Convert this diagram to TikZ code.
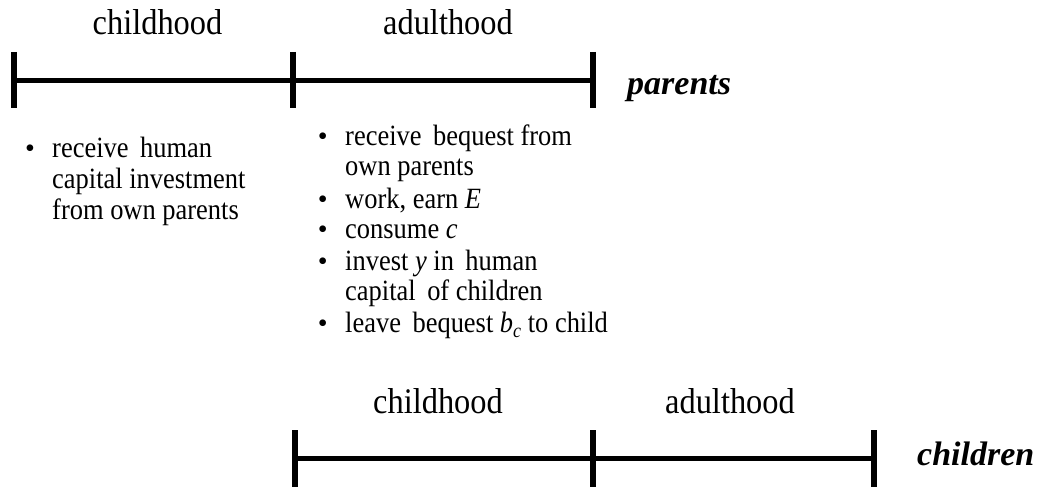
\documentclass[tikz,border=0pt]{standalone}
\usepackage{fontspec}
\setmainfont{Liberation Serif}
\newfontfamily\bodyfont{Liberation Serif}[FakeStretch=0.9]
\begin{document}
\begin{tikzpicture}[x=1pt,y=-1pt,
  head/.style={font=\bodyfont\fontsize{36}{38}\selectfont, anchor=base, inner sep=0},
  lbl/.style={font=\fontsize{34}{38}\selectfont\bfseries\itshape, anchor=base west, inner sep=0},
  txt/.style={font=\bodyfont\fontsize{29.4}{30}\selectfont, anchor=base west, inner sep=0},
  bul/.style={font=\fontsize{28}{28}\selectfont, anchor=base, inner sep=0},
  axisline/.style={line width=5pt},
  tickline/.style={line width=5.5pt}]
\useasboundingbox (0,0) rectangle (1042,487);

% parents timeline
\coordinate (pa) at (14,80.5);
\coordinate (pb) at (293,80.5);
\coordinate (pc) at (593,80.5);
\draw[axisline] (pa) -- (pc);
\foreach \x in {14,293,593} \draw[tickline] (\x,52) -- (\x,108);
\node[head] (pchild) at (157.5,35) {childhood};
\node[head] (padult) at (448,35) {adulthood};
\node[lbl] (parents) at (627,95) {parents};

% children timeline
\coordinate (ca) at (295,458);
\coordinate (cb) at (593,458);
\coordinate (cc) at (874,458);
\draw[axisline] (ca) -- (cc);
\foreach \x in {295,593,874} \draw[tickline] (\x,430) -- (\x,490);
\node[head] (cchild) at (438,413) {childhood};
\node[head] (cadult) at (730,413) {adulthood};
\node[lbl] (children) at (917,465) {children};

% left list
\node[bul] (lb1) at (30,157) {\textbullet};
\node[txt] (l1) at (52,157) {receive\, human};
\node[txt] (l2) at (52,188) {capital investment};
\node[txt] (l3) at (52,219) {from own parents};

% right list
\node[bul] (rb1) at (322.7,145) {\textbullet};
\node[txt] (r1) at (345,145) {receive\, bequest from};
\node[txt] (r2) at (345,175) {own parents};
\node[bul] (rb2) at (322.7,208) {\textbullet};
\node[txt] (r3) at (345,208) {work, earn \textit{E}};
\node[bul] (rb3) at (322.7,238) {\textbullet};
\node[txt] (r4) at (345,238) {consume \textit{c}};
\node[bul] (rb4) at (322.7,270) {\textbullet};
\node[txt] (r5) at (345,270) {invest \textit{y} in\, human};
\node[txt] (r6) at (345,300) {capital\, of children};
\node[bul] (rb5) at (322.7,332) {\textbullet};
\node[txt] (r7) at (345,332) {leave\, bequest \textit{b}\raisebox{-5pt}{\fontsize{20}{20}\selectfont\textit{c}} to child};
\end{tikzpicture}
\end{document}
